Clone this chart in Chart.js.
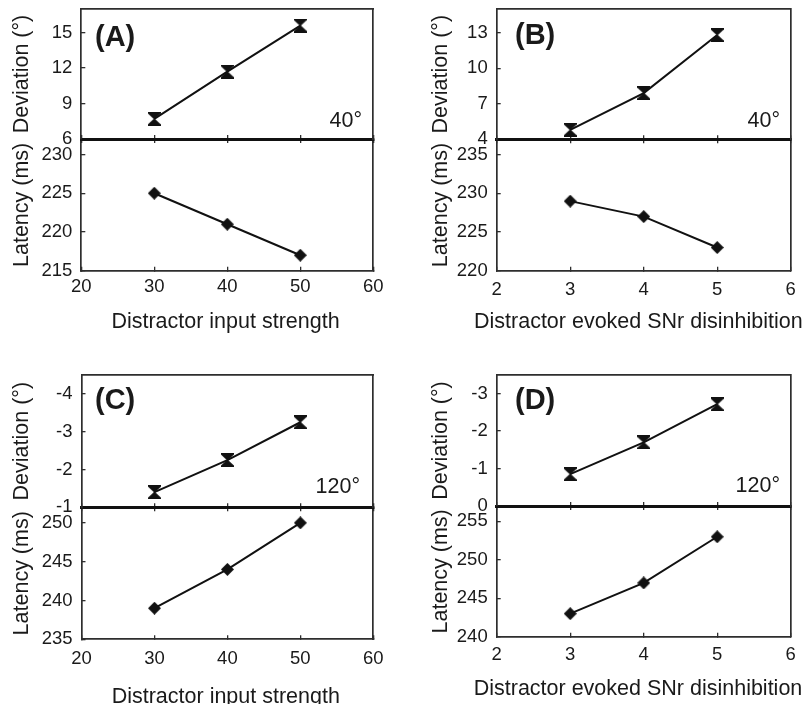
<!DOCTYPE html>
<html><head><meta charset="utf-8">
<script src="https://cdn.jsdelivr.net/npm/chart.js@4.4.0/dist/chart.umd.min.js"></script>
<style>
html,body{margin:0;padding:0;background:#fff;overflow:hidden;}
#wrap{position:relative;width:808px;height:704px;overflow:hidden;background:#fff;}
#wrap canvas{position:absolute;left:0;top:0;}
</style></head><body><div id="wrap"></div>
<script>
// ---------------- data ----------------
const xA = [30, 40, 50];
const devA = [7.7, 11.7, 15.6];
const latA = [225, 221, 217];

const xB = [3, 4, 5];
const devB = [4.8, 7.9, 12.8];
const latB = [229, 227, 223];

const xC = [30, 40, 50];
const devC = [-1.4, -2.25, -3.25];
const latC = [239, 244, 250];

const xD = [3, 4, 5];
const devD = [-0.85, -1.7, -2.72];
const latD = [243, 247, 253];

// tick labels
const xTicksAC = [20, 30, 40, 50, 60];
const xTicksBD = [2, 3, 4, 5, 6];
const devTicksA = [6, 9, 12, 15];
const latTicksA = [215, 220, 225, 230];
const devTicksB = [4, 7, 10, 13];
const latTicksB = [220, 225, 230, 235];
const devTicksC = [-4, -3, -2, -1];
const latTicksC = [235, 240, 245, 250];
const devTicksD = [-3, -2, -1, 0];
const latTicksD = [240, 245, 250, 255];

// axis ranges
const xRangeAC = [20, 60];
const xRangeBD = [2, 6];
const devRangeA = [6, 17];
const devRangeB = [4, 15];
const devRangeC = [-4.5, -1];
const devRangeD = [-3.5, 0];
const latRangeA = [215, 232];
const latRangeB = [220, 237];
const latRangeC = [235, 252];
const latRangeD = [240, 257];

// texts
const panelLetters = ['(A)', '(B)', '(C)', '(D)'];
const angleLabels = ['40°', '40°', '120°', '120°'];
const xTitles = ['Distractor input strength', 'Distractor evoked SNr disinhibition',
                 'Distractor input strength', 'Distractor evoked SNr disinhibition'];
const devTitle = 'Deviation (°)';
const latTitle = 'Latency (ms)';

// ---------------- style / layout ----------------
const FONT = "'Liberation Sans', Arial, Helvetica, sans-serif";
Chart.defaults.font.family = FONT;
Chart.defaults.color = '#1a1a1a';
Chart.defaults.animation = false;

const CW = 808, CH = 704, YW = 81, HX = 40;
const FRAME = '#2e2e2e', FRAME_W = 1.7, SEP = '#111', SEP_W = 3;
const INK = '#111';
const TICK_SIZE = 18.5, TITLE_SIZE = 21.5;

const geo = [
  {L: 81.3, R: 373.3, T: 6.5, S: 139, B: 270.7, tX: 22, xlp: 9,
   letter: [95, 45.5], angle: [362, 126.7], xt: [225.5, 328.3]},
  {L: 496.7, R: 790.7, T: 6.7, S: 139.3, B: 270.7, tX: 441, xlp: 12,
   letter: [515, 44], angle: [780, 126.7], xt: [638.3, 328.3]},
  {L: 81.5, R: 373.3, T: 375, S: 507.3, B: 639.3, tX: 22, xlp: 13,
   letter: [95, 409], angle: [360, 493.3], xt: [225.8, 703]},
  {L: 496.7, R: 790.7, T: 375, S: 506, B: 636.7, tX: 441, xlp: 11,
   letter: [515, 409], angle: [780, 491.7], xt: [638, 695]}
];

function hourglass(w, h) {
  const c = document.createElement('canvas'); c.width = w; c.height = h;
  const g = c.getContext('2d'); g.fillStyle = INK;
  g.beginPath(); g.moveTo(0, 0); g.lineTo(w, 0); g.lineTo(w, 1.5); g.lineTo(w / 2 + 0.6, h / 2); g.lineTo(w, h - 1.5);
  g.lineTo(w, h); g.lineTo(0, h); g.lineTo(0, h - 1.5); g.lineTo(w / 2 - 0.6, h / 2); g.lineTo(0, 1.5); g.closePath(); g.fill();
  return c;
}
function diamond(w, h) {
  const c = document.createElement('canvas'); c.width = w; c.height = h;
  const g = c.getContext('2d'); g.fillStyle = INK;
  g.beginPath(); g.moveTo(w / 2, 0); g.lineTo(w, h / 2); g.lineTo(w / 2, h); g.lineTo(0, h / 2); g.closePath(); g.fill();
  return c;
}
const HG = hourglass(13, 14);
const DM = diamond(13, 13);

const textPlugin = {
  id: 'texts',
  afterDraw(chart, args, opts) {
    const ctx = chart.ctx;
    (opts.items || []).forEach(it => {
      ctx.save();
      ctx.font = it.font; ctx.fillStyle = '#1a1a1a';
      ctx.textAlign = it.align; ctx.textBaseline = 'alphabetic';
      ctx.fillText(it.text, it.x, it.y);
      ctx.restore();
    });
  }
};

function tickSetter(vals) { return s => { s.ticks = vals.map(v => ({value: v})); }; }

function innerGrid() {
  return {drawOnChartArea: false, drawTicks: true, tickLength: -4, color: FRAME, lineWidth: 1.3};
}

function makeCanvas() {
  const c = document.createElement('canvas');
  c.width = CW; c.height = CH;
  c.style.width = CW + 'px'; c.style.height = CH + 'px';
  document.getElementById('wrap').appendChild(c);
  return c;
}

function yTitle(text, g) {
  const pt = g.tX - (g.L - YW) - TITLE_SIZE * 0.6;
  return {display: true, text: text, font: {size: TITLE_SIZE}, color: '#1a1a1a', padding: {top: pt, bottom: 0}};
}

function upperChart(g, xs, ys, xRange, xTicks, yRange, yTicks, reverse, items) {
  new Chart(makeCanvas(), {
    type: 'line',
    data: {datasets: [{
      data: xs.map((x, i) => ({x: x, y: ys[i]})),
      borderColor: INK, borderWidth: 2, pointStyle: HG, pointRadius: 7,
      backgroundColor: INK, showLine: true, tension: 0, clip: false
    }]},
    plugins: [textPlugin],
    options: {
      responsive: false, maintainAspectRatio: false, events: [],
      layout: {padding: {left: g.L - YW, right: CW - g.R, top: g.T, bottom: CH - g.S}},
      plugins: {legend: {display: false}, tooltip: {enabled: false}, texts: {items: items}},
      scales: {
        x: {type: 'linear', position: 'bottom', min: xRange[0], max: xRange[1],
            afterBuildTicks: tickSetter(xTicks),
            ticks: {display: false}, grid: innerGrid(),
            border: {display: true, color: SEP, width: SEP_W},
            afterFit: s => { s.height = 0; s.paddingLeft = 0; s.paddingRight = 0; }},
        x2: {type: 'linear', position: 'top', min: xRange[0], max: xRange[1],
             ticks: {display: false}, grid: {display: false},
             border: {display: true, color: FRAME, width: FRAME_W},
             afterFit: s => { s.height = 0; s.paddingLeft = 0; s.paddingRight = 0; }},
        y: {type: 'linear', position: 'left', min: yRange[0], max: yRange[1], reverse: reverse,
            afterBuildTicks: tickSetter(yTicks),
            ticks: {font: {size: TICK_SIZE}, padding: 13, color: '#1a1a1a'},
            grid: innerGrid(),
            border: {display: true, color: FRAME, width: FRAME_W},
            title: yTitle(devTitle, g),
            afterFit: s => { s.width = YW; s.paddingTop = 0; s.paddingBottom = 0; }},
        y2: {type: 'linear', position: 'right', min: yRange[0], max: yRange[1],
             ticks: {display: false}, grid: {display: false},
             border: {display: true, color: FRAME, width: FRAME_W},
             afterFit: s => { s.width = 0; s.paddingTop = 0; s.paddingBottom = 0; }}
      }
    }
  });
}

function lowerChart(g, xs, ys, xRange, xTicks, yRange, yTicks) {
  new Chart(makeCanvas(), {
    type: 'line',
    data: {datasets: [{
      data: xs.map((x, i) => ({x: x, y: ys[i]})),
      borderColor: INK, borderWidth: 2, pointStyle: DM, pointRadius: 7,
      backgroundColor: INK, showLine: true, tension: 0, clip: false
    }]},
    options: {
      responsive: false, maintainAspectRatio: false, events: [],
      layout: {padding: {left: g.L - YW, right: CW - g.R, top: g.S, bottom: CH - g.B - HX}},
      plugins: {legend: {display: false}, tooltip: {enabled: false}},
      scales: {
        x: {type: 'linear', position: 'bottom', min: xRange[0], max: xRange[1],
            afterBuildTicks: tickSetter(xTicks),
            ticks: {font: {size: TICK_SIZE}, padding: g.xlp, color: '#1a1a1a', maxRotation: 0},
            grid: innerGrid(),
            border: {display: true, color: FRAME, width: FRAME_W},
            afterFit: s => { s.height = HX; s.paddingLeft = 0; s.paddingRight = 0; }},
        x2: {type: 'linear', position: 'top', min: xRange[0], max: xRange[1],
             afterBuildTicks: tickSetter(xTicks),
             ticks: {display: false}, grid: innerGrid(),
             border: {display: false},
             afterFit: s => { s.height = 0; s.paddingLeft = 0; s.paddingRight = 0; }},
        y: {type: 'linear', position: 'left', min: yRange[0], max: yRange[1],
            afterBuildTicks: tickSetter(yTicks),
            ticks: {font: {size: TICK_SIZE}, padding: 13, color: '#1a1a1a'},
            grid: innerGrid(),
            border: {display: true, color: FRAME, width: FRAME_W},
            title: yTitle(latTitle, g),
            afterFit: s => { s.width = YW; s.paddingTop = 0; s.paddingBottom = 0; }},
        y2: {type: 'linear', position: 'right', min: yRange[0], max: yRange[1],
             ticks: {display: false}, grid: {display: false},
             border: {display: true, color: FRAME, width: FRAME_W},
             afterFit: s => { s.width = 0; s.paddingTop = 0; s.paddingBottom = 0; }}
      }
    }
  });
}

function panelItems(i) {
  const g = geo[i];
  return [
    {text: panelLetters[i], font: 'bold 29px ' + FONT, x: g.letter[0], y: g.letter[1], align: 'left'},
    {text: angleLabels[i], font: '21.5px ' + FONT, x: g.angle[0], y: g.angle[1], align: 'right'},
    {text: xTitles[i], font: TITLE_SIZE + 'px ' + FONT, x: g.xt[0], y: g.xt[1], align: 'center'}
  ];
}

const panels = [
  [xA, devA, latA, xRangeAC, xTicksAC, devRangeA, devTicksA, latRangeA, latTicksA, false],
  [xB, devB, latB, xRangeBD, xTicksBD, devRangeB, devTicksB, latRangeB, latTicksB, false],
  [xC, devC, latC, xRangeAC, xTicksAC, devRangeC, devTicksC, latRangeC, latTicksC, true],
  [xD, devD, latD, xRangeBD, xTicksBD, devRangeD, devTicksD, latRangeD, latTicksD, true]
];

panels.forEach((p, i) => {
  const g = geo[i];
  lowerChart(g, p[0], p[2], p[3], p[4], p[7], p[8]);
  upperChart(g, p[0], p[1], p[3], p[4], p[5], p[6], p[9], panelItems(i));
});
</script></body></html>
